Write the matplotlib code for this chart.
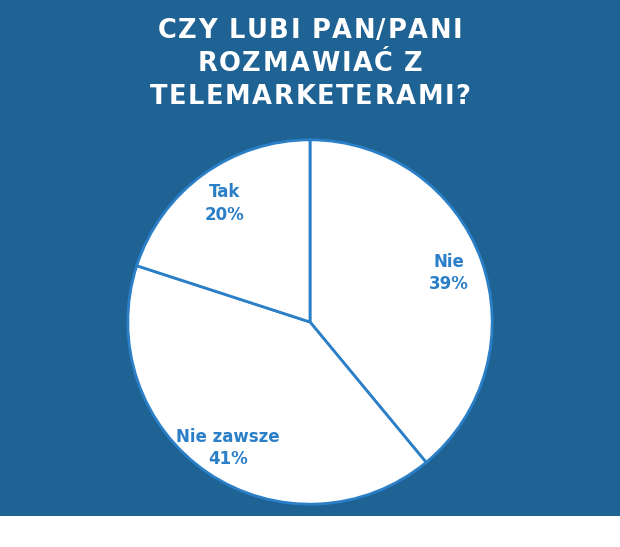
import matplotlib
matplotlib.use("Agg")
import matplotlib.pyplot as plt
from matplotlib.patches import Rectangle

# dane z wykresu
kategorie = ["Nie", "Nie zawsze", "Tak"]
wartosci = [39, 41, 20]
pozycje_etykiet = [(0.76, 0.27), (-0.45, -0.69), (-0.47, 0.65)]
tytul = ["CZY LUBI PAN/PANI", "ROZMAWIAĆ Z", "TELEMARKETERAMI?"]

tlo = "#1f6395"
niebieski = "#2b7fc7"

fig = plt.figure(figsize=(6.2, 5.47), dpi=100, facecolor="white")
fig.patches.append(Rectangle((0, 31 / 547), 1, 1, transform=fig.transFigure,
                             facecolor=tlo, edgecolor="none", zorder=-10))

# tytul z rozstrzelonymi literami
renderer = fig.canvas.get_renderer()
rozmiar = 18.5
odstep = 1.6  # px miedzy literami


def szerokosc(s):
    t = fig.text(0, 0, s, fontsize=rozmiar, fontweight="bold")
    w = t.get_window_extent(renderer).width
    t.remove()
    return w


spacja = (szerokosc("I I") - szerokosc("II")) * 0.9
for i, linia in enumerate(tytul):
    szer = [spacja if c == " " else szerokosc(c) for c in linia]
    calosc = sum(szer) + odstep * (len(linia) - 1)
    x = 310 - calosc / 2
    y = 1 - (31 + 33 * i) / 547
    for c, w in zip(linia, szer):
        if c != " ":
            fig.text(x / 620, y, c, color="white", fontsize=rozmiar,
                     fontweight="bold", ha="left", va="center")
        x += w + odstep

r = 184
ax = fig.add_axes([(310 - r) / 620, (547 - 322 - r) / 547, 2 * r / 620, 2 * r / 547])
ax.pie(wartosci, startangle=90, counterclock=False, colors=["white"] * 3,
       wedgeprops=dict(edgecolor=niebieski, linewidth=2))
ax.set_xlim(-1.01, 1.01)
ax.set_ylim(-1.01, 1.01)
ax.axis("off")

for k, w, (x, y) in zip(kategorie, wartosci, pozycje_etykiet):
    ax.text(x, y, f"{k}\n{w}%", color=niebieski, fontsize=12, fontweight="bold",
            ha="center", va="center", linespacing=1.3)

plt.savefig("out.png", dpi=100, facecolor=fig.get_facecolor())
